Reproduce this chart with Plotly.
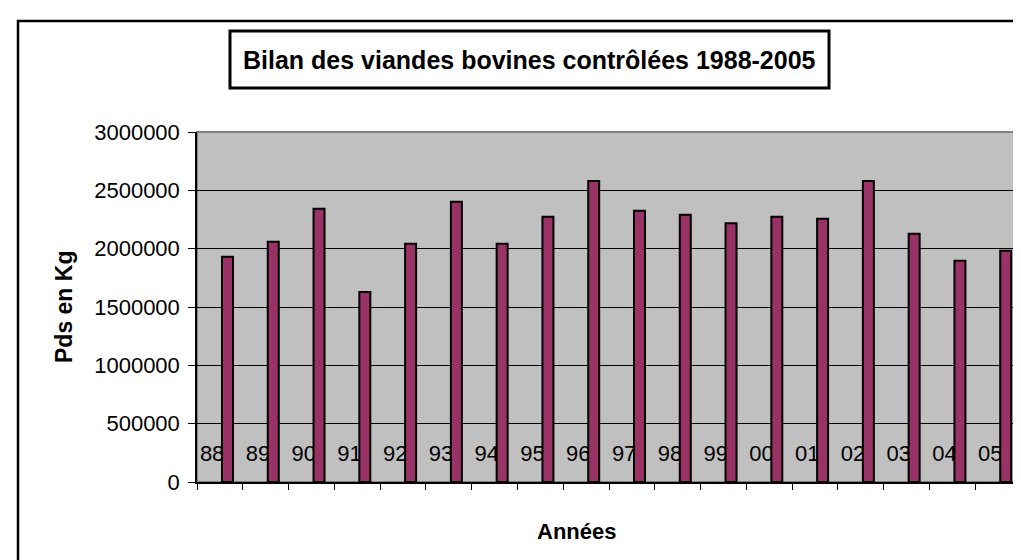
import plotly.graph_objects as go

# ---- data ----
years = ["88", "89", "90", "91", "92", "93", "94", "95", "96",
         "97", "98", "99", "00", "01", "02", "03", "04", "05"]
poids = [1931000, 2059000, 2343000, 1629000, 2042000, 2403000, 2042000, 2274000, 2580000,
         2326000, 2291000, 2218000, 2274000, 2257000, 2580000, 2128000, 1896000, 1982000]
y_ticks = [0, 500000, 1000000, 1500000, 2000000, 2500000, 3000000]

title_text = "Bilan des viandes bovines contrôlées 1988-2005"
x_title = "Années"
y_title = "Pds en Kg"

FONT = "Liberation Sans, Arial, sans-serif"
W, H = 1021, 560
L, R, T, B = 189, 8, 124, 86
PW, PH = W - L - R, H - T - B

def px(x):
    return (x - L) / PW

def py(y):
    return 1 - (y - T) / PH

idx = list(range(len(years)))

fig = go.Figure()

# year labels (drawn beneath the bars)
fig.add_trace(go.Bar(
    x=idx, y=[200000] * len(years), base=145000,
    offset=-0.57, width=0.8,
    marker=dict(color="rgba(0,0,0,0)", line=dict(width=0)),
    text=years, textposition="inside", insidetextanchor="middle",
    constraintext="none", textangle=0,
    insidetextfont=dict(family=FONT, size=22, color="black"),
    hoverinfo="skip", showlegend=False,
))

# data bars
fig.add_trace(go.Bar(
    x=idx, y=poids, offset=0.046, width=0.24,
    marker=dict(color="#993366", line=dict(color="black", width=2)),
    showlegend=False,
))

fig.update_layout(
    width=W, height=H,
    margin=dict(l=L, r=R, t=T, b=B, autoexpand=False),
    paper_bgcolor="white", plot_bgcolor="#C0C0C0",
    barmode="overlay",
    font=dict(family=FONT, size=22, color="black"),
    xaxis=dict(
        range=[-0.5, len(years) - 0.5],
        tickvals=[i - 0.5 for i in range(len(years) + 1)],
        showticklabels=False, ticks="outside", ticklen=6, tickwidth=1, tickcolor="black",
        showgrid=False, zeroline=False,
        showline=True, linecolor="black", linewidth=1.5,
    ),
    yaxis=dict(
        range=[0, 3000000], tickvals=y_ticks, tickformat="d",
        ticks="outside", ticklen=7, tickwidth=1, tickcolor="black",
        tickfont=dict(family=FONT, size=22, color="black"),
        ticklabelstandoff=4,
        showgrid=True, gridcolor="black", gridwidth=1,
        zeroline=False,
        showline=True, linecolor="black", linewidth=1.5,
    ),
    shapes=[
        # plot area gray frame
        dict(type="rect", xref="paper", yref="paper", x0=0, y0=0, x1=1, y1=1,
             line=dict(color="#808080", width=2), layer="below"),
        # outer chart border
        dict(type="rect", xref="paper", yref="paper",
             x0=px(10), y0=py(580), x1=px(1040), y1=py(13),
             line=dict(color="black", width=2.5)),
        # title box
        dict(type="rect", xref="paper", yref="paper",
             x0=px(222), y0=py(80), x1=px(821), y1=py(23),
             line=dict(color="black", width=3), fillcolor="white"),
    ],
    annotations=[
        dict(text=f"<b>{title_text}</b>", xref="paper", yref="paper",
             x=px(521.5), y=py(52), xanchor="center", yanchor="middle",
             showarrow=False, font=dict(family=FONT, size=25, color="black")),
        dict(text=f"<b>{y_title}</b>", xref="paper", yref="paper",
             x=px(56), y=py(299), xanchor="center", yanchor="middle", textangle=-90,
             showarrow=False, font=dict(family=FONT, size=23, color="black")),
        dict(text=f"<b>{x_title}</b>", xref="paper", yref="paper",
             x=px(568), y=py(523), xanchor="center", yanchor="middle",
             showarrow=False, font=dict(family=FONT, size=22, color="black")),
    ],
)

fig.write_html("out.html")
